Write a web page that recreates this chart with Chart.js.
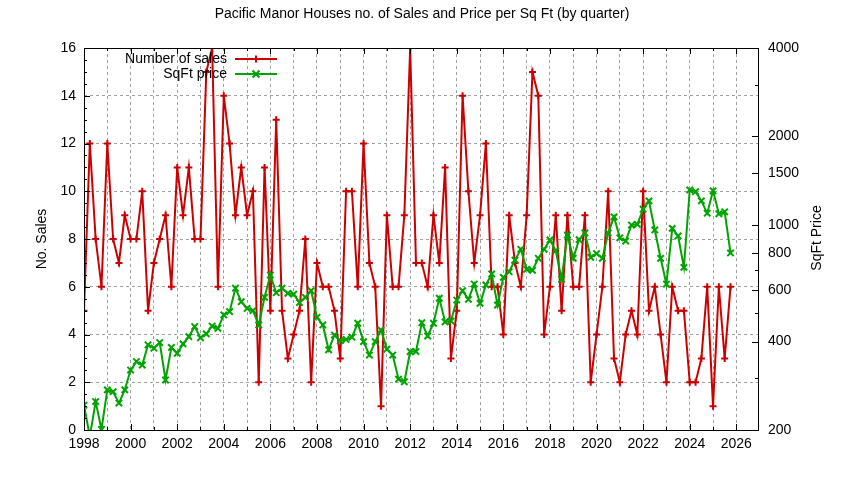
<!DOCTYPE html>
<html>
<head>
<meta charset="utf-8">
<title>Pacific Manor Houses</title>
<script src="https://cdn.jsdelivr.net/npm/chart.js@4.4.1/dist/chart.umd.min.js"></script>
<style>
  html, body { margin: 0; padding: 0; background: #fff; }
  #wrap { width: 844px; height: 480px; }
</style>
</head>
<body>
<div id="wrap"><canvas id="salesChart"></canvas></div>
<script>
const chartTitle = 'Pacific Manor Houses no. of Sales and Price per Sq Ft (by quarter)';
const firstYear = 1998;
const lastYear = 2026;

// one value per quarter, 1998 Q1 .. 2025 Q4
const salesCount = [
  5, 12, 8, 6,    12, 8, 7, 9,    8, 8, 10, 5,    7, 8, 9, 6,     11, 9, 11, 8,
  8, 15, 16, 6,   14, 12, 9, 11,  9, 10, 2, 11,   5, 13, 5, 3,    4, 5, 8, 2,
  7, 6, 6, 5,     3, 10, 10, 6,   12, 7, 6, 1,    9, 6, 6, 9,     16, 7, 7, 6,
  9, 7, 11, 3,    5, 14, 10, 7,   9, 12, 6, 6,    4, 9, 7, 6,     9, 15, 14, 4,
  6, 9, 5, 9,     6, 6, 9, 2,     4, 6, 10, 3,    2, 4, 5, 4,     10, 5, 6, 4,
  2, 6, 5, 5,     2, 2, 3, 6,     1, 6, 3, 6
];
const sqftPrice = [
  243, 190, 250, 201,   274, 270, 247, 274,   320, 342, 333, 390,   380, 397, 296, 382,
  365, 393, 416, 450,   412, 425, 452, 444,   493, 506, 608, 547,   519, 510, 456, 566,
  674, 587, 608, 584,   580, 543, 566, 596,   484, 456, 375, 421,   403, 407, 414, 462,
  400, 360, 400, 438,   377, 360, 298, 292,   370, 370, 464, 418,   462, 562, 467, 470,
  554, 596, 557, 628,   540, 624, 680, 533,   662, 692, 758, 825,   705, 700, 769, 825,
  888, 816, 652, 922,   769, 890, 938, 775,   798, 769, 938, 1064,  903, 880, 998, 1003,
  1130, 1206, 960, 769, 628, 972, 916, 716,   1314, 1296, 1206, 1095, 1305, 1090, 1107, 802
];

const salesTicks = [0, 2, 4, 6, 8, 10, 12, 14, 16];
const priceTicks = [200, 400, 600, 800, 1000, 1500, 2000, 4000];
const priceMinorTicks = [300, 500, 700, 3000];

const quarterX = salesCount.map((_, i) => firstYear + i / 4);
const yearGrid = [];
for (let y = firstYear; y <= lastYear; y++) yearGrid.push(y);

const font = '"Liberation Sans", Arial, sans-serif';
const red = '#cc0000';
const green = '#00a400';

// gnuplot-like frame: border, inward ticks, title, axis titles, key
const framePlugin = {
  id: 'frame',
  afterDraw(chart) {
    const { ctx, chartArea: a, scales } = chart;
    ctx.save();
    ctx.strokeStyle = '#000';
    ctx.lineWidth = 1;
    ctx.strokeRect(a.left + 0.5, a.top + 0.5, a.right - a.left, a.bottom - a.top);

    ctx.beginPath();
    yearGrid.forEach(y => {
      const px = Math.round(scales.x.getPixelForValue(y)) + 0.5;
      const len = y % 2 === 0 ? 6 : 3;
      ctx.moveTo(px, a.bottom); ctx.lineTo(px, a.bottom - len);
      ctx.moveTo(px, a.top); ctx.lineTo(px, a.top + len);
    });
    for (let v = 0; v <= 16; v += 0.5) {
      const py = Math.round(scales.y.getPixelForValue(v)) + 0.5;
      const len = v % 2 === 0 ? 6 : 3;
      ctx.moveTo(a.left, py); ctx.lineTo(a.left + len, py);
    }
    priceTicks.concat(priceMinorTicks).forEach(v => {
      const py = Math.round(scales.y2.getPixelForValue(v)) + 0.5;
      const len = priceTicks.includes(v) ? 6 : 3;
      ctx.moveTo(a.right, py); ctx.lineTo(a.right - len, py);
    });
    ctx.stroke();

    ctx.fillStyle = '#000';
    ctx.font = '14px ' + font;
    ctx.textAlign = 'center';
    ctx.textBaseline = 'middle';
    ctx.fillText(chartTitle, 422, 14);

    ctx.save();
    ctx.translate(42, 239);
    ctx.rotate(-Math.PI / 2);
    ctx.fillText('No. Sales', 0, 0);
    ctx.restore();
    ctx.save();
    ctx.translate(817, 238);
    ctx.rotate(-Math.PI / 2);
    ctx.fillText('SqFt Price', 0, 0);
    ctx.restore();

    // key
    chart.data.datasets.forEach((ds, k) => {
      const y = 59 + k * 15;
      ctx.fillStyle = '#000';
      ctx.textAlign = 'right';
      ctx.fillText(ds.label, 227, y);
      ctx.strokeStyle = ds.borderColor;
      ctx.lineWidth = 2;
      ctx.beginPath();
      ctx.moveTo(235, y); ctx.lineTo(277, y);
      const cx = 256, r = 3.5;
      if (ds.pointStyle === 'crossRot') {
        ctx.moveTo(cx - r, y - r); ctx.lineTo(cx + r, y + r);
        ctx.moveTo(cx - r, y + r); ctx.lineTo(cx + r, y - r);
      } else {
        ctx.moveTo(cx, y - r); ctx.lineTo(cx, y + r);
      }
      ctx.stroke();
    });
    ctx.restore();
  }
};

new Chart(document.getElementById('salesChart'), {
  type: 'line',
  data: {
    datasets: [
      {
        label: 'Number of sales',
        data: quarterX.map((x, i) => ({ x, y: salesCount[i] })),
        yAxisID: 'y',
        borderColor: red,
        backgroundColor: red,
        borderWidth: 2,
        pointStyle: 'cross',
        pointRadius: 3.5,
        pointBorderWidth: 2,
        tension: 0,
        fill: false,
        order: 1
      },
      {
        label: 'SqFt price',
        data: quarterX.map((x, i) => ({ x, y: sqftPrice[i] })),
        yAxisID: 'y2',
        borderColor: green,
        backgroundColor: green,
        borderWidth: 2,
        pointStyle: 'crossRot',
        pointRadius: 4.5,
        pointBorderWidth: 2,
        tension: 0,
        fill: false,
        order: 0
      }
    ]
  },
  options: {
    responsive: true,
    maintainAspectRatio: false,
    animation: false,
    layout: { padding: { top: 48, left: 0, right: 0, bottom: 0 } },
    plugins: {
      legend: { display: false },
      tooltip: { enabled: false },
      title: { display: false }
    },
    scales: {
      x: {
        type: 'linear',
        min: firstYear,
        max: 2026.93,
        afterBuildTicks: s => { s.ticks = yearGrid.map(v => ({ value: v })); },
        afterFit: s => { s.height = 50; },
        ticks: {
          autoSkip: false,
          maxRotation: 0,
          padding: 6,
          color: '#000',
          font: { family: font, size: 14 },
          callback: v => (v % 2 === 0 ? String(v) : '')
        },
        grid: { color: '#a0a0a0', lineWidth: 1, drawTicks: false },
        border: { display: false, dash: [3, 3] }
      },
      y: {
        type: 'linear',
        position: 'left',
        min: 0,
        max: 16,
        afterBuildTicks: s => { s.ticks = salesTicks.map(v => ({ value: v })); },
        afterFit: s => { s.width = 84; },
        ticks: {
          padding: 8,
          color: '#000',
          font: { family: font, size: 14 }
        },
        grid: { color: '#a0a0a0', lineWidth: 1, drawTicks: false },
        border: { display: false, dash: [3, 3] }
      },
      y2: {
        type: 'logarithmic',
        position: 'right',
        min: 200,
        max: 4000,
        afterBuildTicks: s => { s.ticks = priceTicks.map(v => ({ value: v })); },
        afterFit: s => { s.width = 86; },
        ticks: {
          padding: 10,
          color: '#000',
          font: { family: font, size: 14 },
          callback: v => String(v)
        },
        grid: { drawOnChartArea: false, drawTicks: false },
        border: { display: false }
      }
    }
  },
  plugins: [framePlugin]
});
</script>
</body>
</html>
